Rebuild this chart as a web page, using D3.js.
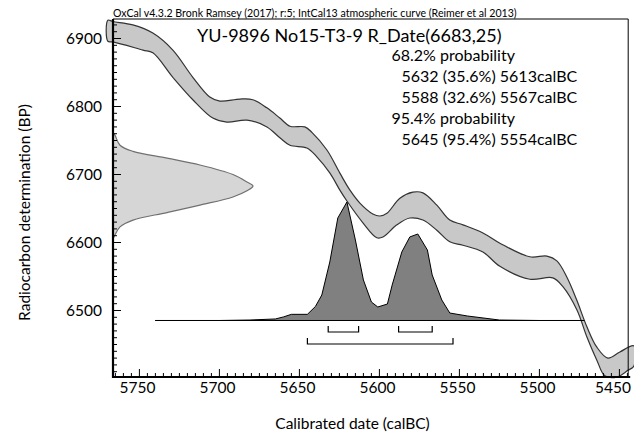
<!DOCTYPE html>
<html><head><meta charset="utf-8">
<script src="https://cdn.jsdelivr.net/npm/d3@7"></script>
<style>body{margin:0;background:#fff}svg{display:block}text{font-family:Lato,"Noto Sans",sans-serif;fill:#000}</style>
</head><body>
<script>
// ---- data ----
const captionText = "OxCal v4.3.2 Bronk Ramsey (2017); r:5; IntCal13 atmospheric curve (Reimer et al 2013)";
const titleText = "YU-9896 No15-T3-9 R_Date(6683,25)";
const rangeLines = ["68.2% probability", "  5632 (35.6%) 5613calBC", "  5588 (32.6%) 5567calBC", "95.4% probability", "  5645 (95.4%) 5554calBC"];
const xTickValues = [5750, 5700, 5650, 5600, 5550, 5500, 5450];
const yTickValues = [6900, 6800, 6700, 6600, 6500];

// calibration curve band (IntCal13), upper and lower edges [calBC, BP]
const curveUpper = [[5769.7,6927],[5766.6,6925],[5754.1,6920],[5741.6,6908],[5729.1,6883],[5716.6,6843],[5706,6814],[5699.7,6808],[5687.2,6811],[5679.1,6810],[5670.3,6798],[5662.2,6783],[5655.9,6771],[5646.6,6770],[5642.2,6762],[5632.8,6736],[5624.7,6702],[5618.4,6677],[5612.2,6658],[5604.1,6642],[5599.7,6639],[5595.3,6643],[5587.2,6665],[5579.1,6674],[5572.8,6673],[5564.1,6655],[5556,6633],[5547.8,6626],[5535.3,6614],[5524.7,6599],[5506,6579],[5495.3,6580],[5489.1,6573],[5482.8,6549],[5476.6,6515],[5470.3,6476],[5464.1,6446],[5457.2,6430],[5449.7,6439],[5441,6448]];
const curveLower = [[5769.7,6896],[5766.6,6895],[5747.8,6883],[5741.6,6879],[5729.1,6843],[5716.6,6810],[5704.1,6783],[5695.3,6777],[5682.8,6780],[5670.3,6770],[5662.2,6754],[5655.9,6743],[5645.3,6739],[5639.1,6726],[5630.9,6702],[5624.7,6677],[5620.3,6661],[5610.3,6629],[5601.6,6607],[5597.8,6608],[5589.1,6626],[5581,6636],[5572.8,6633],[5564.1,6618],[5556,6601],[5547.8,6596],[5535.3,6586],[5524.7,6565],[5506,6546],[5491.6,6548],[5485.3,6535],[5476.6,6501],[5470.3,6461],[5464.1,6427],[5459.1,6404],[5451.6,6402],[5444.7,6412],[5441,6418]];

// radiocarbon likelihood [BP, relative probability]
const likelihood = [[6762,0],[6758,0.014],[6743,0.05],[6734,0.143],[6724,0.386],[6714,0.621],[6700,0.857],[6689,0.957],[6683,1.0],[6676,0.957],[6667,0.857],[6655,0.621],[6644,0.386],[6633,0.143],[6623,0.05],[6611,0.014],[6605,0]];

// calibrated posterior [calBC, relative probability]
const posterior = [[5740,0],[5700,0],[5681,0.004],[5665,0.013],[5660,0.03],[5655,0.052],[5645,0.052],[5640,0.118],[5636,0.215],[5631,0.494],[5626,0.865],[5620.3,1.0],[5615,0.679],[5610,0.342],[5605,0.156],[5601,0.114],[5595,0.139],[5592,0.3],[5586,0.578],[5581,0.705],[5576,0.73],[5570,0.595],[5567,0.384],[5561,0.173],[5556,0.063],[5545,0.038],[5525,0.004],[5500,0],[5472,0]];
const posteriorSpan = [5740, 5472];
const range68 = [[5632,5613],[5588,5567]];
const range95 = [[5645,5554]];
const posteriorBaseBP = 6485.3;

// ---- drawing ----
const W = 634, H = 434;
const svg = d3.select("body").append("svg").attr("width", W).attr("height", H);
const x = d3.scaleLinear().domain([5766.5, 5444.5]).range([113, 628.2]);
const y = d3.scaleLinear().domain([6402.2, 6928.7]).range([377, 19]);
const L = 113, R = 628.2, T = 19, B = 377;

// calibration band
const bandPts = curveUpper.concat(curveLower.slice().reverse());
const bandLine = d3.line().x(d => x(d[0])).y(d => y(d[1])).curve(d3.curveCatmullRomClosed.alpha(0.5));
svg.append("path").attr("d", bandLine(bandPts)).attr("fill", "#c8c8c8").attr("stroke", "#333").attr("stroke-width", 1.2);

// likelihood on y axis
const likeWidth = 140;
const likeArea = d3.area().y(d => y(d[0])).x0(L).x1(d => L + d[1] * likeWidth).curve(d3.curveCatmullRom.alpha(0.5));
svg.append("path").attr("d", likeArea(likelihood)).attr("fill", "#d6d6d6").attr("stroke", "#707070").attr("stroke-width", 1.2);

// posterior
const baseY = y(posteriorBaseBP);
const postHeight = 118.5;
const postArea = d3.area().x(d => x(d[0])).y0(baseY).y1(d => baseY - d[1] * postHeight);
svg.append("path").attr("d", postArea(posterior)).attr("fill", "#808080").attr("stroke", "#000").attr("stroke-width", 1);
svg.append("line").attr("x1", x(posteriorSpan[0])).attr("x2", x(posteriorSpan[1])).attr("y1", baseY).attr("y2", baseY).attr("stroke", "#000").attr("stroke-width", 1.2);

// range brackets
function bracket(r, top, bot) {
  svg.append("path").attr("d", `M${x(r[0])},${top}V${bot}H${x(r[1])}V${top}`).attr("fill", "none").attr("stroke", "#000").attr("stroke-width", 1.2);
}
range68.forEach(r => bracket(r, baseY + 5.5, baseY + 11.5));
range95.forEach(r => bracket(r, baseY + 17.5, baseY + 23.5));

// frame
svg.append("line").attr("x1", L).attr("x2", R).attr("y1", T).attr("y2", T).attr("stroke", "#000").attr("stroke-width", 1);
svg.append("line").attr("x1", R).attr("x2", R).attr("y1", T).attr("y2", B).attr("stroke", "#000").attr("stroke-width", 1);

// x axis
const xMinor = d3.range(5765, 5440, -5);
svg.append("g").selectAll("line").data(xMinor).join("line")
  .attr("x1", d => x(d)).attr("x2", d => x(d)).attr("y1", B).attr("y2", d => B - (d % 50 === 0 ? 8 : 4))
  .attr("stroke", "#000").attr("stroke-width", 1);
svg.append("line").attr("x1", L - 1).attr("x2", R + 2).attr("y1", B).attr("y2", B).attr("stroke", "#000").attr("stroke-width", 2.2);
svg.append("g").selectAll("text").data(xTickValues).join("text")
  .attr("x", d => Math.min(x(d) - 2, 613)).attr("y", 392.5).attr("text-anchor", "middle").attr("font-size", 15.5).text(d => d);

// y axis
const yMinor = d3.range(6410, 6930, 10);
svg.append("g").selectAll("line").data(yMinor).join("line")
  .attr("x1", L).attr("x2", d => L + (d % 100 === 0 ? 8 : 4)).attr("y1", d => y(d)).attr("y2", d => y(d))
  .attr("stroke", "#000").attr("stroke-width", 1);
svg.append("line").attr("x1", L).attr("x2", L).attr("y1", T).attr("y2", B + 1).attr("stroke", "#000").attr("stroke-width", 2.2);
svg.append("g").selectAll("text").data(yTickValues).join("text")
  .attr("x", 102).attr("y", d => y(d) + 5.5).attr("text-anchor", "end").attr("font-size", 15.5).text(d => d);

// axis titles
svg.append("text").attr("x", 352.5).attr("y", 428.5).attr("text-anchor", "middle").attr("font-size", 15.5).text("Calibrated date (calBC)");
svg.append("text").attr("transform", "translate(30,212.5) rotate(-90)").attr("text-anchor", "middle").attr("font-size", 15.5).text("Radiocarbon determination (BP)");

// caption & title
svg.append("text").attr("x", 113).attr("y", 16.5).attr("font-size", 10.6).attr("fill", "#222").text(captionText);
svg.append("text").attr("x", 197).attr("y", 42).attr("font-size", 18).text(titleText);
svg.append("g").selectAll("text").data(rangeLines).join("text")
  .attr("x", (d, i) => d.startsWith("  ") ? 401.5 : 391.5)
  .attr("y", (d, i) => 61 + i * 21)
  .attr("font-size", 16).text(d => d.trim());
</script>
</body></html>
